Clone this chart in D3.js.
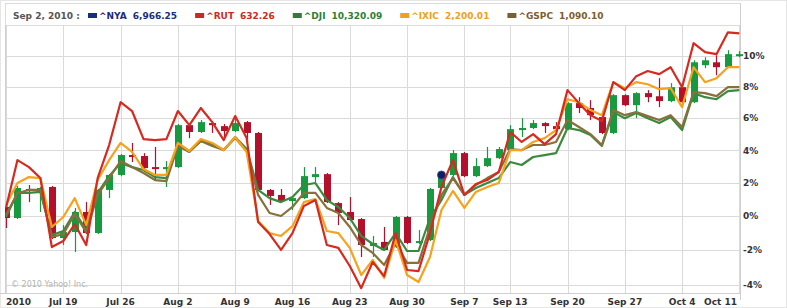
<!DOCTYPE html>
<html>
<head>
<meta charset="utf-8">
<script src="https://cdn.jsdelivr.net/npm/d3@7"></script>
<style>
  body { margin: 0; background: #fff; }
  svg { display: block; }
  text { font-family: "DejaVu Sans", Verdana, sans-serif; }
</style>
</head>
<body>
<svg id="chart" width="787" height="308"></svg>
<script>
// trading days shown on the x axis
const dates = [
    "Jul 12", "Jul 13", "Jul 14", "Jul 15", "Jul 16",
    "Jul 19", "Jul 20", "Jul 21", "Jul 22", "Jul 23",
    "Jul 26", "Jul 27", "Jul 28", "Jul 29", "Jul 30",
    "Aug 2", "Aug 3", "Aug 4", "Aug 5", "Aug 6",
    "Aug 9", "Aug 10", "Aug 11", "Aug 12", "Aug 13",
    "Aug 16", "Aug 17", "Aug 18", "Aug 19", "Aug 20",
    "Aug 23", "Aug 24", "Aug 25", "Aug 26", "Aug 27",
    "Aug 30", "Aug 31", "Sep 1", "Sep 2", "Sep 3",
    "Sep 7", "Sep 8", "Sep 9", "Sep 10",
    "Sep 13", "Sep 14", "Sep 15", "Sep 16", "Sep 17",
    "Sep 20", "Sep 21", "Sep 22", "Sep 23", "Sep 24",
    "Sep 27", "Sep 28", "Sep 29", "Sep 30", "Oct 1",
    "Oct 4", "Oct 5", "Oct 6", "Oct 7", "Oct 8",
    "Oct 11"
];

// percent change series (comparison lines)
const rut = [0.50, 3.40, 2.97, 2.30, -1.81, -1.46, -0.46, -1.69, 2.30, 4.33,
    7.02, 6.46, 4.70, 4.64, 4.70, 6.46, 5.57, 6.65, 5.76, 4.64,
    6.14, 4.76, -0.34, -1.05, -1.98, -0.99, 0.62, 0.97, -1.69, -1.86,
    -2.91, -4.18, -2.68, -3.49, -0.99, -3.14, -3.20, -0.99, 1.76, 3.40,
    1.28, 1.94, 2.18, 2.67, 5.14, 4.52, 5.01, 4.39, 5.01, 7.79,
    6.96, 6.20, 5.83, 8.30, 7.79, 8.69, 9.02, 8.82, 9.27, 7.98,
    10.84, 10.25, 10.12, 11.56, 11.49];
const dji = [-0.04, 1.40, 1.40, 1.46, -1.11, -0.87, 0.26, -0.81, 1.40, 2.42,
    3.22, 2.97, 2.79, 2.36, 2.30, 4.33, 3.96, 4.58, 4.39, 4.02,
    4.83, 4.08, 1.58, 1.09, 0.85, 1.15, 1.88, 2.00, 0.97, 0.56,
    -0.10, -1.16, -1.63, -1.98, -0.99, -2.04, -2.04, -0.10, 0.97, 2.36,
    1.28, 1.70, 2.00, 2.30, 3.28, 3.10, 3.59, 3.71, 3.83, 5.39,
    5.26, 4.95, 4.27, 6.39, 6.01, 6.33, 6.01, 5.70, 6.08, 5.26,
    7.60, 7.34, 7.21, 7.73, 7.79];
const ixic = [0.67, 2.00, 2.36, 2.30, -0.63, -0.04, 1.09, -0.52, 2.18, 3.40,
    4.46, 3.90, 2.85, 2.49, 2.49, 4.46, 3.96, 4.70, 4.46, 4.02,
    4.83, 3.90, -0.28, -0.99, -1.16, -0.58, 0.85, 1.03, -0.87, -0.99,
    -1.86, -3.43, -2.56, -3.60, -1.40, -3.43, -3.83, -2.39, 0.38, 1.52,
    0.50, 1.46, 1.76, 2.00, 4.02, 4.02, 4.52, 4.76, 5.26, 7.21,
    7.02, 6.52, 6.20, 8.30, 7.92, 8.30, 8.17, 7.85, 7.92, 6.71,
    9.27, 8.30, 8.56, 9.27, 9.27];
const gspc = [0.08, 1.40, 1.58, 1.58, -1.22, -1.05, 0.14, -0.93, 1.28, 2.30,
    3.34, 2.97, 2.61, 2.18, 2.12, 4.27, 3.90, 4.58, 4.27, 4.02,
    4.76, 3.96, 1.28, 0.20, 0.02, 0.56, 1.40, 1.40, 0.50, 0.20,
    -0.63, -1.69, -2.15, -2.85, -1.57, -2.73, -2.73, -0.63, 1.28, 2.30,
    1.28, 1.88, 2.30, 2.67, 4.08, 4.02, 4.33, 4.33, 4.52, 5.89,
    5.45, 5.01, 4.33, 6.52, 6.20, 6.39, 6.14, 5.89, 6.20, 5.45,
    7.66, 7.60, 7.41, 7.98, 7.98];

// ^NYA candles, percent change
const nyaOpen = [0.56, -0.10, 1.64, 1.52, 1.76, -1.28, -0.93, 0.26, -0.99, 1.58,
    2.49, 3.71, 3.65, 2.97, 2.85, 2.97, 5.57, 5.14, 5.70, 5.51,
    5.20, 5.76, 5.08, 1.58, 1.28, 0.91, 1.09, 2.36, 2.54, 0.79,
    0.26, -0.16, -1.75, -1.51, -1.81, -0.04, -1.57, -1.40, 1.70, 2.49,
    3.83, 2.42, 3.03, 3.52, 4.02, 5.26, 5.39, 5.70, 5.51, 5.32,
    6.96, 6.65, 6.08, 5.08, 7.47, 6.83, 7.60, 7.40, 7.09, 7.98,
    7.02, 9.40, 9.59, 9.27, 10.05];
const nyaHigh = [0.67, 1.82, 1.88, 1.76, 1.82, -0.52, 0.50, 0.85, 1.64, 2.54,
    3.77, 4.46, 3.83, 4.21, 3.34, 5.64, 5.64, 5.89, 5.76, 5.64,
    6.08, 5.83, 5.14, 1.64, 1.64, 1.15, 2.97, 2.97, 2.61, 0.85,
    1.15, -0.10, -1.16, -0.63, 0.02, 0.02, -0.81, 1.70, 2.54, 4.02,
    3.90, 3.52, 4.21, 4.21, 5.57, 6.01, 5.89, 5.76, 5.76, 7.02,
    7.34, 7.15, 6.14, 7.53, 7.53, 7.66, 7.79, 8.56, 8.24, 8.05,
    9.72, 9.92, 10.05, 10.38, 10.32];
const nyaLow = [-0.69, -0.16, 0.85, 0.26, -1.34, -1.69, -2.10, -1.05, -1.05, 1.09,
    2.42, 3.28, 2.67, 2.18, 1.76, 2.91, 4.76, 5.08, 5.08, 4.64,
    5.14, 4.46, 1.52, 0.68, 0.91, 0.38, 1.03, 2.06, 0.79, -0.52,
    -0.28, -2.39, -2.39, -2.04, -1.86, -1.63, -1.63, -1.46, 1.64, 2.42,
    2.36, 2.36, 2.97, 3.46, 3.96, 4.83, 5.32, 5.08, 5.26, 5.26,
    6.33, 5.89, 5.01, 5.01, 6.77, 6.01, 7.02, 6.71, 7.02, 6.96,
    6.96, 9.21, 8.75, 9.21, 9.92];
const nyaClose = [-0.10, 1.70, 1.52, 1.70, -1.28, -0.93, 0.26, -0.99, 1.58, 2.49,
    3.71, 3.59, 2.91, 2.85, 2.97, 5.57, 5.14, 5.76, 5.57, 5.20,
    5.70, 5.08, 1.58, 1.22, 0.92, 1.09, 2.42, 2.54, 0.85, 0.20,
    -0.22, -1.69, -1.57, -1.98, -0.04, -1.57, -1.46, 1.64, 2.49, 3.83,
    2.42, 3.03, 3.52, 4.08, 5.32, 5.39, 5.70, 5.51, 5.32, 6.96,
    6.65, 6.20, 5.08, 7.47, 6.83, 7.60, 7.34, 7.09, 7.98, 7.02,
    9.59, 9.72, 9.27, 10.12, 10.12];

const tickDates = ["Jul 12", "Jul 19", "Jul 26", "Aug 2", "Aug 9", "Aug 16", "Aug 23",
    "Aug 30", "Sep 7", "Sep 13", "Sep 20", "Sep 27", "Oct 4", "Oct 11"];
const tickLabels = ["2010", "Jul 19", "Jul 26", "Aug 2", "Aug 9", "Aug 16", "Aug 23",
    "Aug 30", "Sep 7", "Sep 13", "Sep 20", "Sep 27", "Oct 4", "Oct 11"];
const yTicks = [-4, -2, 0, 2, 4, 6, 8, 10];

const hoverDate = "Sep 2";
const legendSymbols = ["^NYA", "^RUT", "^DJI", "^IXIC", "^GSPC"];
const legendValues = ["6,966.25", "632.26", "10,320.09", "2,200.01", "1,090.10"];
const legendColors = ["#1c2c7c", "#cc2a1f", "#2f7d36", "#f0a020", "#7a6030"];

const colors = { rut: "#d62a20", dji: "#3a8a3e", ixic: "#f7a21c", gspc: "#86703c", up: "#17993f", down: "#b3112b", nya: "#0d1f66" };

const svg = d3.select("#chart");
const plotLeft = 5, plotRight = 740, plotTop = 25, plotBottom = 293;

const x = d3.scalePoint().domain(dates).range([6, 739.4]);
const y = d3.scaleLog().domain([0.96, 1.10]).range([285, 56]);
const py = p => y(1 + p / 100);

// frame
svg.append("rect").attr("x", 0.5).attr("y", 0.5).attr("width", 786).attr("height", 307)
    .attr("fill", "none").attr("stroke", "#e6e6e6");
svg.append("rect").attr("x", plotLeft + 0.5).attr("y", 3.5).attr("width", plotRight - plotLeft).attr("height", plotTop - 3)
    .attr("fill", "#fff").attr("stroke", "#dcdcdc");

// grid
const grid = svg.append("g").attr("shape-rendering", "crispEdges");
grid.selectAll("line.h").data(yTicks).join("line")
    .attr("x1", plotLeft).attr("x2", plotRight)
    .attr("y1", d => Math.round(py(d)) + 0.5).attr("y2", d => Math.round(py(d)) + 0.5)
    .attr("stroke", "#dadada");
grid.selectAll("line.v").data(tickDates).join("line")
    .attr("x1", d => Math.round(x(d)) + 0.5).attr("x2", d => Math.round(x(d)) + 0.5)
    .attr("y1", plotTop).attr("y2", plotBottom)
    .attr("stroke", "#dadada");
grid.append("line").attr("x1", 0).attr("x2", plotRight).attr("y1", plotBottom + 0.5).attr("y2", plotBottom + 0.5).attr("stroke", "#cfcfcf");
grid.append("line").attr("x1", plotLeft + 0.5).attr("x2", plotLeft + 0.5).attr("y1", plotTop).attr("y2", plotBottom).attr("stroke", "#cfcfcf");
grid.append("line").attr("x1", plotRight + 0.5).attr("x2", plotRight + 0.5).attr("y1", 3).attr("y2", 300).attr("stroke", "#cfcfcf");

svg.append("text").attr("x", 11).attr("y", 287).attr("font-size", 8).attr("fill", "#b4b4b4")
    .text("\u00a9 2010 Yahoo! Inc.");

svg.append("defs").append("clipPath").attr("id", "plot-clip")
    .append("rect").attr("x", plotLeft).attr("y", plotTop).attr("width", plotRight - plotLeft + 3).attr("height", plotBottom - plotTop);

const plot = svg.append("g").attr("clip-path", "url(#plot-clip)");

// candles
const candles = dates.map((d, i) => ({ date: d, o: nyaOpen[i], h: nyaHigh[i], l: nyaLow[i], c: nyaClose[i] }));
const candle = plot.append("g").selectAll("g").data(candles).join("g")
    .attr("fill", d => d.c >= d.o ? colors.up : colors.down)
    .attr("stroke", d => d.c >= d.o ? colors.up : colors.down);
candle.append("line")
    .attr("x1", d => Math.round(x(d.date)) + 0.5).attr("x2", d => Math.round(x(d.date)) + 0.5)
    .attr("y1", d => py(d.h)).attr("y2", d => py(d.l))
    .attr("stroke-width", 1.2);
candle.append("rect")
    .attr("x", d => Math.round(x(d.date)) - 3)
    .attr("y", d => py(Math.max(d.o, d.c)))
    .attr("width", 7)
    .attr("height", d => Math.max(2, Math.abs(py(d.o) - py(d.c))))
    .attr("stroke", "none");

// comparison lines
const line = d3.line().x((d, i) => x(dates[i])).y(d => py(d));
[["dji", dji], ["gspc", gspc], ["ixic", ixic], ["rut", rut]].forEach(([key, values]) => {
    plot.append("path").datum(values)
        .attr("d", line)
        .attr("fill", "none")
        .attr("stroke", colors[key])
        .attr("stroke-width", 2.2)
        .attr("stroke-linejoin", "round");
});

// hover marker on ^NYA
const hi = dates.indexOf(hoverDate);
plot.append("circle").attr("cx", x(hoverDate)).attr("cy", py(nyaClose[hi])).attr("r", 4)
    .attr("fill", colors.nya).attr("stroke", "#3a4a8a").attr("stroke-width", 0.8);

// axes labels
svg.append("g").selectAll("text").data(yTicks).join("text")
    .attr("x", 743).attr("y", d => py(d)).attr("dy", "0.35em")
    .attr("font-size", 9).attr("font-weight", "bold").attr("fill", "#333")
    .text(d => d + "%");

svg.append("g").selectAll("text").data(tickDates).join("text")
    .attr("x", (d, i) => i === 0 ? 6 : i === tickDates.length - 1 ? 737 : x(d))
    .attr("y", 305)
    .attr("text-anchor", (d, i) => i === 0 ? "start" : i === tickDates.length - 1 ? "end" : "middle")
    .attr("font-size", 9).attr("font-weight", "bold").attr("fill", "#333")
    .text((d, i) => tickLabels[i]);

// legend
const legend = svg.append("g").attr("font-size", 9).attr("font-weight", "bold");
legend.append("text").attr("x", 13).attr("y", 19).attr("fill", "#555").text(hoverDate + ", 2010 :");
let lx = 88;
legendSymbols.forEach((sym, i) => {
    legend.append("rect").attr("x", lx).attr("y", 13).attr("width", 9).attr("height", 5).attr("fill", legendColors[i]);
    const t1 = legend.append("text").attr("x", lx + 11).attr("y", 19).attr("fill", legendColors[i]).text(sym);
    const w1 = t1.node().getComputedTextLength();
    const t2 = legend.append("text").attr("x", lx + 11 + w1 + 6).attr("y", 19).attr("fill", legendColors[i]).text(legendValues[i]);
    const w2 = t2.node().getComputedTextLength();
    lx = lx + 11 + w1 + 6 + w2 + 18;
});
</script>
</body>
</html>
